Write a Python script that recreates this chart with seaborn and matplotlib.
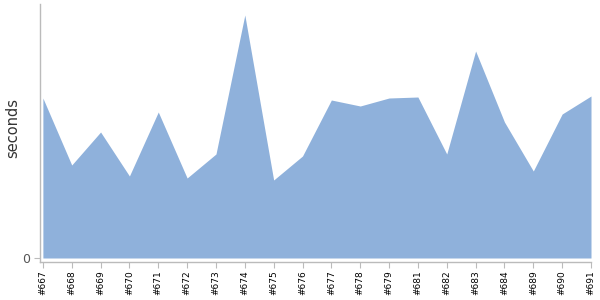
import matplotlib
matplotlib.use("Agg")
import matplotlib.pyplot as plt
import seaborn as sns
import pandas as pd

builds = ["#667", "#668", "#669", "#670", "#671", "#672", "#673", "#674", "#675", "#676",
          "#677", "#678", "#679", "#681", "#682", "#683", "#684", "#689", "#690", "#691"]
seconds = [160, 93, 126, 82, 146, 80, 104, 243, 78, 102,
           158, 152, 160, 161, 104, 207, 136, 87, 144, 162]

df = pd.DataFrame({"build": builds, "seconds": seconds, "idx": range(len(builds))})

sns.set_style("white")
plt.rcParams["font.family"] = ["DejaVu Sans"]

fig = plt.figure(figsize=(6, 3), dpi=100)
ax = fig.add_axes([40 / 600, 38 / 300, 551 / 600, 258 / 300])

sns.lineplot(data=df, x="idx", y="seconds", ax=ax, color="#8fb1db", linewidth=0)
ax.fill_between(df["idx"], 0, df["seconds"], color="#8fb1db", linewidth=0)

ax.set_xlim(-0.1, len(builds) - 1)
ax.set_ylim(-4, 254)
ax.set_xticks(df["idx"])
ax.set_xticklabels(builds, rotation=90, fontsize=6.5, color="#000000")
ax.set_yticks([0])
ax.set_yticklabels(["0"], fontsize=9, color="#555555")
ax.set_xlabel("")
ax.set_ylabel("seconds", fontsize=10.5, color="#333333")
ax.yaxis.set_label_coords(-20 / 551, 0.52)

for s in ["top", "right"]:
    ax.spines[s].set_visible(False)
for s in ["left", "bottom"]:
    ax.spines[s].set_color("#bbbbbb")
    ax.spines[s].set_linewidth(1)
ax.tick_params(axis="x", length=4, color="#bbbbbb", pad=2, bottom=True)
ax.tick_params(axis="y", length=4, color="#bbbbbb", pad=3, left=True)

fig.savefig("out.png", dpi=100)
